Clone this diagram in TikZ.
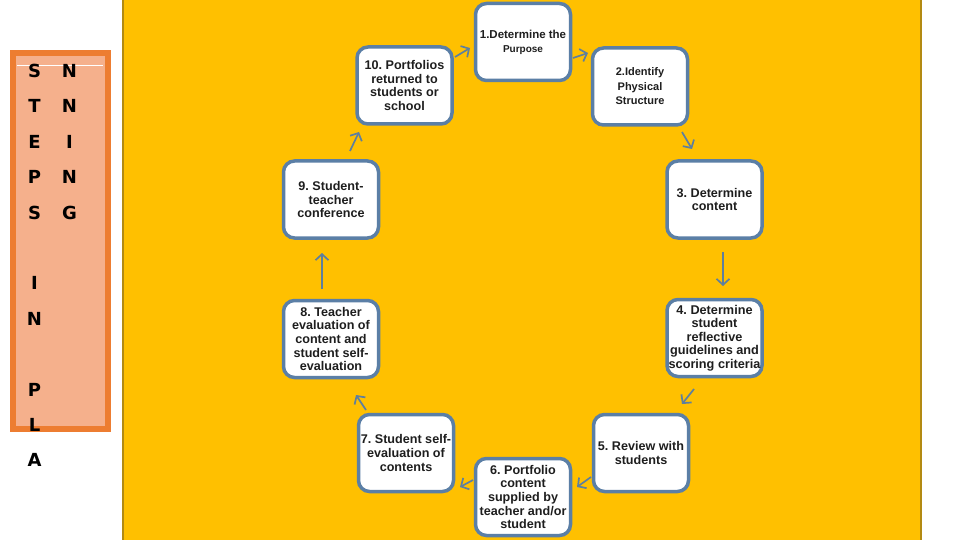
\documentclass[tikz,border=0pt]{standalone}
\usepackage{fontspec}
\setmainfont{Liberation Sans}
\newfontfamily\heavyfont{DejaVu Sans}
\usetikzlibrary{arrows.meta}
\definecolor{goldfill}{HTML}{FFC000}
\definecolor{goldedge}{HTML}{B38A12}
\definecolor{panelfill}{HTML}{F5B08C}
\definecolor{paneledge}{HTML}{ED7D31}
\definecolor{boxblue}{HTML}{5B7FA6}
\definecolor{arrblue}{HTML}{5E7F9E}
\definecolor{txt}{HTML}{1E1E1E}
\tikzset{
  stepbox/.style={draw=boxblue, line width=3.5pt, rounded corners=11pt, fill=white,
    minimum width=95pt, minimum height=77pt, inner sep=0pt, align=center, text=txt,
    font=\frenchspacing\bfseries\fontsize{12.6}{13.6}\selectfont},
  flowarr/.style={draw=arrblue, line width=1.7pt,
    -{Straight Barb[length=6pt,width=13pt]}},
  letter/.style={font=\heavyfont\bfseries\fontsize{18}{18}\selectfont, text=black, inner sep=0pt}
}
\begin{document}
\begin{tikzpicture}[x=1pt,y=-1pt]
\useasboundingbox (0,0) rectangle (960,540);
\fill[white] (0,0) rectangle (960,540);
% yellow stage
\draw[goldedge, line width=1.6pt, fill=goldfill] (123,-3) rectangle (921,543);
% left panel
\draw[paneledge, line width=6pt, fill=panelfill] (13,53) rectangle (108,429);
\draw[white, line width=0.8pt] (17,65) -- (103,65);
\foreach \ch [count=\i from 0] in {S,T,E,P,S,{},I,N,{},P,L,A}
  \node[letter] (cola\i) at (34.5,71+35.4*\i) {\ch};
\foreach \ch [count=\i from 0] in {N,N,I,N,G}
  \node[letter] (colb\i) at (69.5,71+35.4*\i) {\ch};
% boxes
\node[stepbox, font=\frenchspacing\bfseries\fontsize{11.5}{14}\selectfont] (b1) at (523,42)
  {\raisebox{0pt}[9pt][0pt]{1.Determine the}\\{\fontsize{10}{14}\selectfont Purpose}};
\node[stepbox, font=\frenchspacing\bfseries\fontsize{11}{14.5}\selectfont] (b2) at (640,86.5)
  {2.Identify\\Physical\\Structure};
\node[stepbox] (b3) at (714.5,199.5) {3. Determine\\content};
\node[stepbox, font=\frenchspacing\bfseries\fontsize{12.7}{13.6}\selectfont] (b4) at (714.5,338) {4. Determine\\student\\reflective\\guidelines and\\scoring criteria};
\node[stepbox] (b5) at (641,453) {5. Review with\\students};
\node[stepbox] (b7) at (406,453) {7. Student self-\\evaluation of\\contents};
\node[stepbox] (b6) at (523,497) {6. Portfolio\\content\\supplied by\\teacher and/or\\student};
\node[stepbox] (b8) at (331,339) {8. Teacher\\evaluation of\\content and\\student self-\\evaluation};
\node[stepbox] (b9) at (331,199.5) {9. Student-\\teacher\\conference};
\node[stepbox] (b10) at (404.5,85.5) {10. Portfolios\\returned to\\students or\\school};
% arrow end points
\coordinate (a1s) at (455,57);  \coordinate (a1e) at (470,48);
\coordinate (a2s) at (573,58);  \coordinate (a2e) at (588,53);
\coordinate (a3s) at (682,132); \coordinate (a3e) at (692,149);
\coordinate (a4s) at (723,252); \coordinate (a4e) at (723,286);
\coordinate (a5s) at (694,389); \coordinate (a5e) at (682,404);
\coordinate (a6s) at (591,477); \coordinate (a6e) at (577,487);
\coordinate (a7s) at (473,480); \coordinate (a7e) at (460,487);
\coordinate (a8s) at (366,410); \coordinate (a8e) at (356,395);
\coordinate (a9s) at (322,289); \coordinate (a9e) at (322,253);
\coordinate (a10s) at (350,151); \coordinate (a10e) at (359,132);
\foreach \k in {1,...,10} \draw[flowarr] (a\k s) -- (a\k e);
\end{tikzpicture}
\end{document}
